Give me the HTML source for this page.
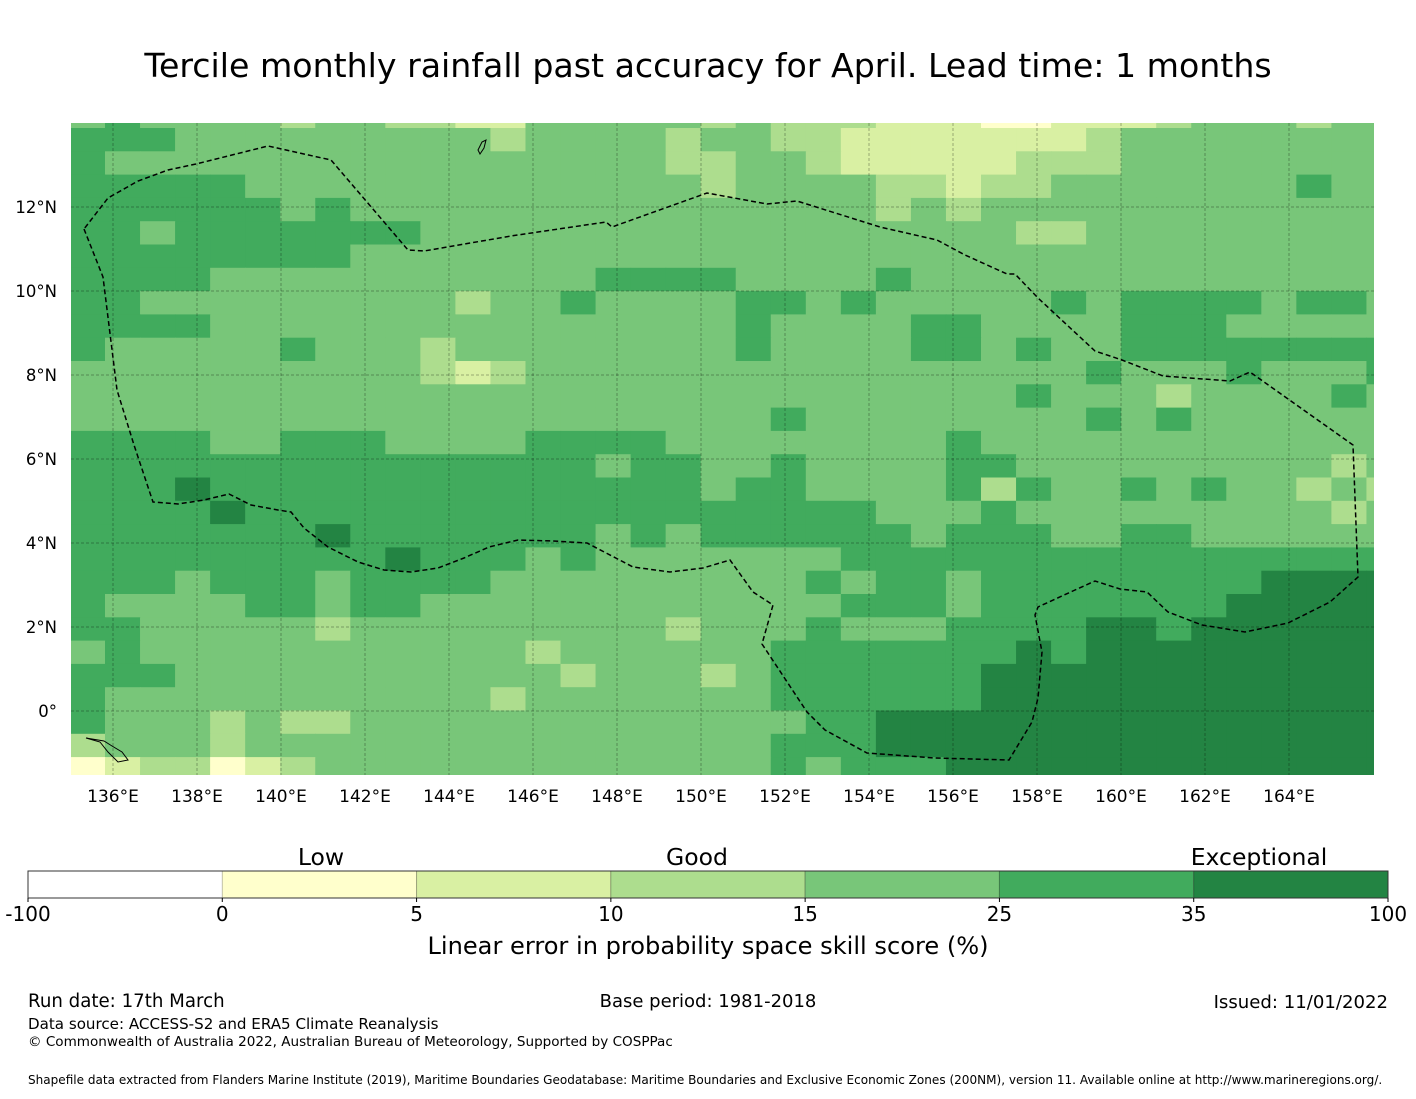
<!DOCTYPE html>
<html><head><meta charset="utf-8"><style>
html,body{margin:0;padding:0;background:#fff;}
body{width:1416px;height:1095px;overflow:hidden;font-family:"DejaVu Sans","Liberation Sans",sans-serif;}
svg text{font-family:"DejaVu Sans","Liberation Sans",sans-serif;}
</style></head><body>
<svg id="chart" width="1416" height="1095" viewBox="0 0 1416 1095" xmlns="http://www.w3.org/2000/svg">
<text x="708" y="77" font-size="33.2" text-anchor="middle">Tercile monthly rainfall past accuracy for April. Lead time: 1 months</text>
<g id="map"></g>
<g id="cbar"></g>
<text x="708" y="954" font-size="24.1" text-anchor="middle">Linear error in probability space skill score (%)</text>
<text x="28" y="1007" font-size="18.2">Run date: 17th March</text>
<text x="708" y="1007" font-size="18" text-anchor="middle">Base period: 1981-2018</text>
<text x="1388" y="1008" font-size="18.1" text-anchor="end">Issued: 11/01/2022</text>
<text x="28" y="1029" font-size="15.1">Data source: ACCESS-S2 and ERA5 Climate Reanalysis</text>
<text x="28" y="1046" font-size="13.55">© Commonwealth of Australia 2022, Australian Bureau of Meteorology, Supported by COSPPac</text>
<text x="28" y="1084" font-size="12.05">Shapefile data extracted from Flanders Marine Institute (2019), Maritime Boundaries Geodatabase: Maritime Boundaries and Exclusive Economic Zones (200NM), version 11. Available online at http://www.marineregions.org/.</text>
</svg>
<script>
// skill score bins & colours
const binEdges = [-100, 0, 5, 10, 15, 25, 35, 100];
const binColors = ["#ffffff","#ffffcc","#d9f0a3","#addd8e","#78c679","#41ab5d","#238443"];
const categoryLabels = ["Low","Good","Exceptional"];
const lonTicks = [136,138,140,142,144,146,148,150,152,154,156,158,160,162,164];
const latTicks = [12,10,8,6,4,2,0];
// grid rows (north to south), values = skill score %, via level codes
const levelValue = [-50, 2, 7, 12, 20, 30, 45];
const gridRows = [
"4544443443"+"3224444434"+"3332221122"+"23444344",
"5554444444"+"4434444344"+"3322222223"+"44444444",
"5444444444"+"4444444334"+"4322222333"+"44444444",
"5555544444"+"4444444434"+"4443323344"+"44444544",
"5555554544"+"4444444444"+"4443434444"+"44444444",
"5545555555"+"4444444444"+"4444444334"+"44444444",
"5555555544"+"4444444444"+"4444444444"+"44444444",
"5555444444"+"4444455554"+"4445444444"+"44444444",
"5544444444"+"4344544445"+"5454444454"+"55554554",
"5555444444"+"4444444445"+"4444554444"+"55544444",
"5444445444"+"3444444445"+"4444554544"+"55555555",
"4444444444"+"3234444444"+"4444444445"+"44454445",
"4444444444"+"4444444444"+"4444444544"+"43444454",
"4444444444"+"4444444444"+"5444444445"+"45444444",
"5555445554"+"4445555444"+"4444454444"+"44444444",
"5555555555"+"5555545544"+"5444455444"+"44444434",
"5556555555"+"5555555545"+"5444453544"+"54544343",
"5555655555"+"5555555555"+"5554445444"+"44444434",
"5555555655"+"5555545455"+"5555455544"+"55444444",
"5555555556"+"5554544444"+"4455555555"+"55555555",
"5554555455"+"5544444444"+"4545545555"+"55556666",
"5444455455"+"4444444444"+"4455545555"+"55566666",
"5544444344"+"4444444344"+"4544455556"+"65666666",
"4544444444"+"4443444444"+"5555555656"+"66666666",
"5554444444"+"4444344434"+"5555556666"+"66666666",
"5444444444"+"4434444444"+"5555556666"+"66666666",
"5444343344"+"4444444444"+"4556666666"+"66666666",
"3444344444"+"4444444444"+"5556666666"+"66666666",
"1233123444"+"4444444444"+"5455566666"+"66666666"
];
const gridValues = gridRows.map(r => r.split("").map(c => levelValue[+c]));

const NS = "http://www.w3.org/2000/svg";
function mk(tag, attrs, parent){const e=document.createElementNS(NS,tag);for(const k in attrs)e.setAttribute(k,attrs[k]);parent.appendChild(e);return e;}
const map = document.getElementById("map");
const X0=71, X1=1374, Y0=123, Y1=775;
const xLon = lon => 113 + (lon-136)*42;
const yLat = lat => 711 - lat*42;
const cellW = 35.04, cellH = 23.3;
const colX = c => 105 + (c-1)*cellW;
const rowY = r => 128 + (r-1)*cellH;
function colorFor(v){for(let i=0;i<binColors.length;i++){if(v<binEdges[i+1]||i===binColors.length-1)return binColors[i];}}
mk("clipPath",{id:"mclip"},map).appendChild(document.createElementNS(NS,"rect"));
const cr=map.querySelector("clipPath rect");cr.setAttribute("x",X0);cr.setAttribute("y",Y0);cr.setAttribute("width",X1-X0);cr.setAttribute("height",Y1-Y0);
const cells = mk("g",{"clip-path":"url(#mclip)"},map);


gridValues.forEach((row,r)=>row.forEach((v,c)=>{
  const rc = mk("rect",{x:colX(c),y:rowY(r),width:cellW+0.6,height:cellH+0.6,fill:colorFor(v)},cells);
  
  
}));
lonTicks.forEach(l=>{const g=mk("line",{x1:xLon(l),x2:xLon(l),y1:Y0,y2:Y1,stroke:"#000","stroke-opacity":"0.3","stroke-width":"1","stroke-dasharray":"3,2"},map);
  
  const t=mk("text",{x:xLon(l),y:802,"font-size":"17","text-anchor":"middle"},map);t.textContent=l+"°E";
  });
latTicks.forEach(l=>{const g=mk("line",{x1:X0,x2:X1,y1:yLat(l),y2:yLat(l),stroke:"#000","stroke-opacity":"0.3","stroke-width":"1","stroke-dasharray":"3,2"},map);
  
  const t=mk("text",{x:57,y:yLat(l)+6,"font-size":"16.5","text-anchor":"end"},map);t.textContent=l===0?"0°":l+"°N";
  });
const eez = [[84,229],[103,277],[117,390],[134,445],[153,502],[178,504],[204,500],[229,494],[251,505],[278,510],[291,512],[304,528],[328,547],[358,562],[384,570],[411,572],[438,568],[464,558],[489,547],[518,540],[553,541],[587,543],[633,567],[670,572],[703,568],[730,560],[753,592],[773,605],[762,644],[807,712],[825,730],[867,753],[935,758],[1009,760],[1032,722],[1038,698],[1042,652],[1035,615],[1038,607],[1075,590],[1095,581],[1120,589],[1147,592],[1168,612],[1202,625],[1245,632],[1288,623],[1330,602],[1358,577],[1353,445],[1250,372],[1230,381],[1163,376],[1122,360],[1095,351],[1038,298],[1015,274],[1007,274],[965,255],[937,240],[880,227],[797,201],[767,204],[707,193],[612,227],[606,222],[511,236],[424,251],[408,250],[331,160],[268,146],[196,164],[168,170],[138,181],[108,198],[84,229]];
const p = mk("polyline",{points:eez.map(q=>q.join(",")).join(" "),fill:"none",stroke:"#000","stroke-width":"1.5","stroke-dasharray":"5,3"},map);


const isl = mk("path",{d:"M86,738 L100,742 L108,752 L118,762 L128,760 L122,752 L112,746 L104,741 Z M478,150 L482,142 L486,140 L484,148 L480,154 Z",fill:"none",stroke:"#000","stroke-width":"1"},map);


const cb=document.getElementById("cbar");
const cbX0=28, cbX1=1388, cbY=871, cbH=27, segW=(cbX1-cbX0)/binColors.length;
binColors.forEach((c,i)=>{const r=mk("rect",{x:cbX0+i*segW,y:cbY,width:segW,height:cbH,fill:c,stroke:i?"rgba(0,0,0,0.25)":"none","stroke-width":"1"},cb);
  });
mk("rect",{x:cbX0,y:cbY,width:cbX1-cbX0,height:cbH,fill:"none",stroke:"#333","stroke-width":"1"},cb);
binEdges.forEach((v,i)=>{const x=cbX0+i*segW;mk("line",{x1:x,x2:x,y1:cbY+cbH,y2:cbY+cbH+4,stroke:"#000"},cb);
  const t=mk("text",{x:x,y:921,"font-size":"20","text-anchor":"middle"},cb);t.textContent=v;
  });
const catX=[321,697,1259];
categoryLabels.forEach((s,i)=>{const t=mk("text",{x:catX[i],y:865,"font-size":"23.5","text-anchor":"middle"},cb);t.textContent=s;
  });
</script>
</body></html>
